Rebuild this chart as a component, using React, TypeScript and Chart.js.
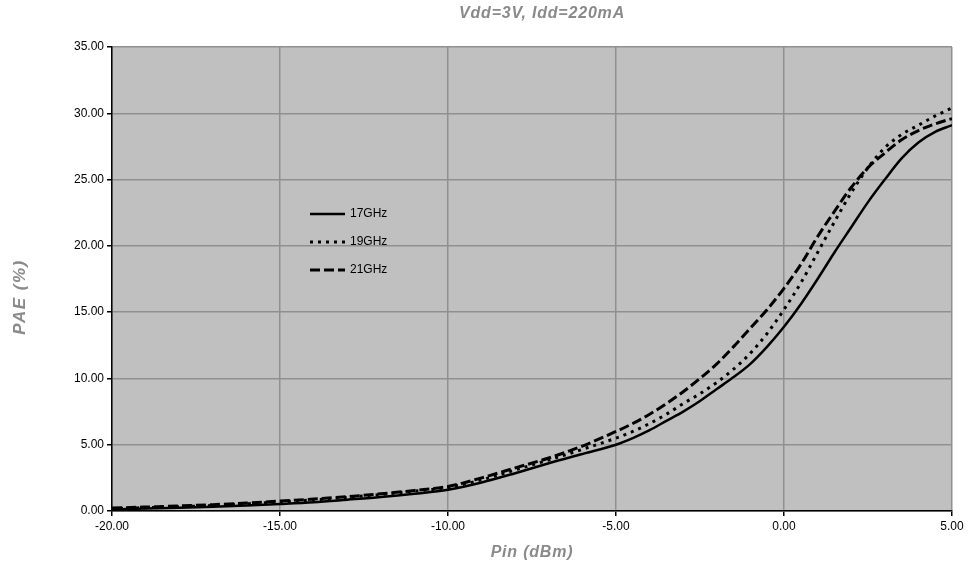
import React, { useEffect, useRef } from "react";
import { Chart, registerables } from "chart.js";

Chart.register(...registerables);

const pin = [-20, -19, -18, -17, -16, -15, -14, -13, -12, -11, -10, -9, -8, -7, -6, -5, -4.5, -4, -3.5, -3, -2.5, -2, -1.5, -1, -0.5, 0, 0.5, 1, 1.5, 2, 2.5, 3, 3.5, 4, 4.5, 5];

const pae17 = [0.12, 0.18, 0.24, 0.32, 0.42, 0.53, 0.66, 0.85, 1.05, 1.3, 1.6, 2.15, 2.85, 3.6, 4.3, 5.0, 5.5, 6.1, 6.8, 7.5, 8.3, 9.2, 10.1, 11.1, 12.4, 13.9, 15.6, 17.5, 19.5, 21.4, 23.3, 25.0, 26.6, 27.8, 28.6, 29.1];

const pae19 = [0.18, 0.25, 0.32, 0.42, 0.55, 0.68, 0.84, 1.03, 1.25, 1.5, 1.78, 2.35, 3.1, 3.85, 4.65, 5.5, 6.0, 6.6, 7.3, 8.1, 8.85, 9.7, 10.7, 11.9, 13.4, 15.2, 17.2, 19.5, 21.8, 24.0, 25.9, 27.4, 28.4, 29.1, 29.8, 30.4];

const pae21 = [0.22, 0.3, 0.38, 0.48, 0.6, 0.75, 0.9, 1.08, 1.3, 1.55, 1.85, 2.5, 3.25, 4.0, 4.9, 6.0, 6.6, 7.3, 8.1, 9.0, 10.0, 11.1, 12.4, 13.8, 15.2, 16.8, 18.6, 20.7, 22.6, 24.4, 25.9, 27.0, 28.0, 28.7, 29.2, 29.6];

const seriesLabels = ["17GHz", "19GHz", "21GHz"];
const chartTitle = "Vdd=3V, Idd=220mA";
const xTitle = "Pin (dBm)";
const yTitle = "PAE (%)";

const FONT = "'Liberation Sans', Arial, sans-serif";

const bgPlugin = {
  id: "plotBg",
  beforeDraw(chart: any) {
    const { ctx, chartArea: ca } = chart;
    ctx.save();
    ctx.fillStyle = "#c0c0c0";
    ctx.fillRect(ca.left, ca.top, ca.right - ca.left, ca.bottom - ca.top);
    ctx.restore();
  },
};

const textPlugin = {
  id: "texts",
  afterDraw(chart: any) {
    const { ctx, chartArea: ca } = chart;
    ctx.save();
    ctx.fillStyle = "#8a8a8a";
    ctx.textAlign = "center";
    ctx.textBaseline = "middle";
    ctx.font = `italic bold 16px ${FONT}`;
    (ctx as any).letterSpacing = "0.8px";
    ctx.fillText(chartTitle, (ca.left + ca.right) / 2 + 10, 14);
    ctx.fillText(xTitle, (ca.left + ca.right) / 2, 553);
    ctx.translate(20, 297);
    ctx.rotate(-Math.PI / 2);
    ctx.font = `italic bold 17px ${FONT}`;
    (ctx as any).letterSpacing = "1.5px";
    ctx.fillText(yTitle, 0, 0);
    ctx.restore();
  },
};

const legendPlugin = {
  id: "innerLegend",
  afterDatasetsDraw(chart: any) {
    const { ctx, chartArea: ca } = chart;
    ctx.save();
    chart.data.datasets.forEach((ds: any, i: number) => {
      const y = ca.top + 167 + i * 28;
      const x0 = ca.left + 198;
      ctx.beginPath();
      ctx.strokeStyle = "#000";
      ctx.lineWidth = ds.borderWidth;
      ctx.setLineDash(ds.borderDash || []);
      ctx.moveTo(x0, y);
      ctx.lineTo(x0 + 35, y);
      ctx.stroke();
      ctx.setLineDash([]);
      ctx.fillStyle = "#000";
      ctx.font = `12px ${FONT}`;
      ctx.textAlign = "left";
      ctx.textBaseline = "middle";
      ctx.fillText(ds.label, x0 + 40, y);
    });
    ctx.restore();
  },
};

export default function App() {
  const ref = useRef<HTMLCanvasElement>(null);

  useEffect(() => {
    if (!ref.current) return;
    const mk = (ys: number[]) => pin.map((x, i) => ({ x, y: ys[i] }));
    const dashes = [[], [3, 5], [10, 4]];
    const all = [pae17, pae19, pae21];
    const chart = new Chart(ref.current, {
      type: "line",
      data: {
        datasets: all.map((ys, i) => ({
          label: seriesLabels[i],
          data: mk(ys),
          borderColor: "#000",
          borderWidth: i === 0 ? 2.5 : 3,
          borderDash: dashes[i],
          pointRadius: 0,
          cubicInterpolationMode: "monotone" as const,
          fill: false,
        })),
      },
      options: {
        animation: false,
        responsive: false,
        layout: { padding: { top: 47, right: 25, left: 0, bottom: 0 } },
        plugins: {
          legend: { display: false },
          title: { display: false },
          tooltip: { enabled: false },
        },
        scales: {
          x: {
            type: "linear",
            min: -20,
            max: 5,
            ticks: {
              stepSize: 5,
              callback: (v: any) => Number(v).toFixed(2),
              font: { family: FONT, size: 12 },
              color: "#000",
              padding: 3,
              maxRotation: 0,
              autoSkip: false,
            },
            grid: { color: "#909090", lineWidth: 1.5, tickLength: 5, tickColor: "#000" },
            border: { color: "#000", width: 1.5 },
            afterFit: (s: any) => {
              s.height = 56;
            },
          },
          y: {
            type: "linear",
            min: 0,
            max: 35,
            ticks: {
              stepSize: 5,
              callback: (v: any) => Number(v).toFixed(2),
              font: { family: FONT, size: 12 },
              color: "#000",
              padding: 3,
            },
            grid: { color: "#909090", lineWidth: 1.5, tickLength: 5, tickColor: "#000" },
            border: { color: "#000", width: 1.5 },
            afterFit: (s: any) => {
              s.width = 112;
            },
          },
        },
      },
      plugins: [bgPlugin, textPlugin, legendPlugin],
    });
    return () => chart.destroy();
  }, []);

  return (
    <div style={{ position: "absolute", left: 0, top: 0, width: 977, height: 567, background: "#fff" }}>
      <canvas ref={ref} width={977} height={567} />
    </div>
  );
}
